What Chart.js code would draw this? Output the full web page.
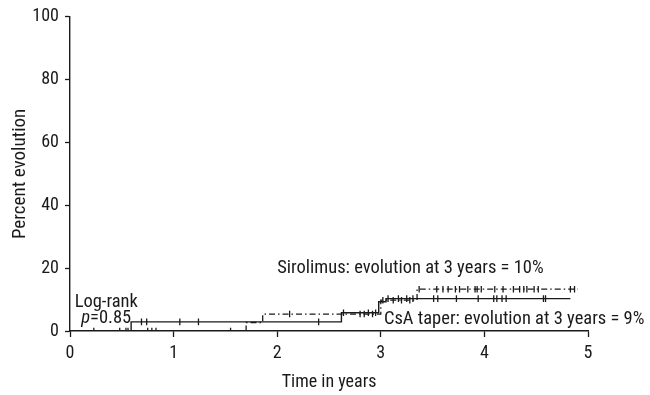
<!DOCTYPE html>
<html>
<head>
<meta charset="utf-8">
<script src="https://cdn.jsdelivr.net/npm/chart.js@4.4.1/dist/chart.umd.min.js"></script>
<style>
  html, body { margin:0; padding:0; background:#fff; }
  #wrap { width:650px; height:395px; }
</style>
</head>
<body>
<div id="wrap"><canvas id="chart" width="650" height="395"></canvas></div>
<script>
// step curves: time (years) where the curve jumps, and the level (%) after the jump
const csaTimes = [0, 0.59, 2.62, 2.98, 3.05, 4.83];
const csaValues = [0, 2.9, 5.8, 9.3, 10.3, 10.3];
const siroTimes = [0, 1.70, 1.86, 3.00, 3.35, 4.90];
const siroValues = [0, 2.7, 5.4, 9.8, 13.3, 13.3];

// censored observations (years)
const csaCensored = [0.23, 0.48, 0.54, 0.69, 0.74, 1.06, 1.24, 2.40, 2.64, 2.88, 2.95,
  3.07, 3.17, 3.25, 3.31, 3.51, 3.55, 3.73, 3.94, 4.09, 4.12, 4.17, 4.21, 4.57, 4.59];
const siroCensored = [0.56, 0.75, 0.79, 0.83, 1.55, 2.12, 2.80, 2.84, 2.92, 3.02, 3.12, 3.20, 3.28,
  3.37, 3.54, 3.60, 3.65, 3.72, 3.76, 3.84, 3.91, 3.93, 3.97, 4.10, 4.18, 4.28, 4.34, 4.38,
  4.41, 4.48, 4.52, 4.83, 4.87];

const xTicks = [0, 1, 2, 3, 4, 5];
const yTicks = [0, 20, 40, 60, 80, 100];

const FONT = "'Liberation Sans Narrow', 'Roboto Condensed', 'DejaVu Sans Condensed', 'Liberation Sans', sans-serif";
const INK = '#1a1a1a';

function levelAt(times, values, t){
  let v = values[0];
  for (let i = 0; i < times.length; i++) if (times[i] <= t) v = values[i];
  return v;
}
const pts = (ts, vs) => ts.map((t,i)=>({x:t, y:vs[i]}));
const marks = (cs, ts, vs) => cs.map(t=>({x:t, y:levelAt(ts, vs, t)}));

const notes = {
  id:'notes',
  afterDraw(chart){
    const {ctx, scales:{x, y}} = chart;
    const sz = 18.5;
    ctx.save();
    ctx.fillStyle = INK;
    ctx.textBaseline = 'middle';
    ctx.font = `${sz}px ${FONT}`;
    ctx.textAlign = 'left';
    ctx.fillText('Sirolimus: evolution at 3 years = 10%', x.getPixelForValue(2.0), y.getPixelForValue(20));
    ctx.fillText('CsA taper: evolution at 3 years = 9%', x.getPixelForValue(3.03), y.getPixelForValue(3.8));
    ctx.textAlign = 'center';
    const cx = x.getPixelForValue(0.35);
    ctx.fillText('Log-rank', cx, y.getPixelForValue(9.2));
    // p=0.85 with italic p
    const rest = '=0.85';
    ctx.font = `italic ${sz}px ${FONT}`;
    const wp = ctx.measureText('p').width;
    ctx.font = `${sz}px ${FONT}`;
    const wr = ctx.measureText(rest).width;
    const x0 = cx - (wp + wr) / 2;
    const py = y.getPixelForValue(4.1);
    ctx.textAlign = 'left';
    ctx.font = `italic ${sz}px ${FONT}`;
    ctx.fillText('p', x0, py);
    ctx.font = `${sz}px ${FONT}`;
    ctx.fillText(rest, x0 + wp, py);
    ctx.restore();
  }
};

new Chart(document.getElementById('chart').getContext('2d'), {
  type:'line',
  data:{
    datasets:[
      { label:'CsA taper', data:pts(csaTimes, csaValues), stepped:'before',
        borderColor:INK, borderWidth:1.4, pointRadius:0, fill:false },
      { label:'Sirolimus', data:pts(siroTimes, siroValues), stepped:'before',
        borderColor:INK, borderWidth:1.3, borderDash:[6,3,1.5,3], pointRadius:0, fill:false },
      { type:'scatter', label:'CsA censored', data:marks(csaCensored, csaTimes, csaValues),
        pointStyle:'line', rotation:90, pointRadius:3.3, borderColor:INK, borderWidth:1.3, showLine:false },
      { type:'scatter', label:'Sirolimus censored', data:marks(siroCensored, siroTimes, siroValues),
        pointStyle:'line', rotation:90, pointRadius:3.3, borderColor:INK, borderWidth:1.3, showLine:false }
    ]
  },
  options:{
    responsive:false,
    animation:false,
    layout:{ padding:{ top:16, right:62, left:0, bottom:0 } },
    plugins:{ legend:{display:false}, tooltip:{enabled:false} },
    scales:{
      x:{
        type:'linear', min:0, max:5,
        afterBuildTicks:s=>{ s.ticks = xTicks.map(v=>({value:v})); },
        afterFit:s=>{ s.height = 64; },
        border:{ display:true, color:INK, width:1.4 },
        grid:{ drawOnChartArea:false, drawTicks:true, tickLength:6, color:INK, tickWidth:1.3 },
        ticks:{ color:INK, padding:6, font:{ family:FONT, size:18 } },
        title:{ display:true, text:'Time in years', color:INK, padding:{top:4, bottom:2},
          font:{ family:FONT, size:18 } }
      },
      y:{
        type:'linear', min:0, max:100,
        afterBuildTicks:s=>{ s.ticks = yTicks.map(v=>({value:v})); },
        afterFit:s=>{ s.width = 70; },
        border:{ display:true, color:INK, width:1.4 },
        grid:{ drawOnChartArea:false, drawTicks:true, tickLength:5, color:INK, tickWidth:1.3 },
        ticks:{ color:INK, padding:6, font:{ family:FONT, size:18 } },
        title:{ display:true, text:'Percent evolution', color:INK, padding:{top:9, bottom:0},
          font:{ family:FONT, size:19 } }
      }
    }
  },
  plugins:[notes]
});
</script>
</body>
</html>
